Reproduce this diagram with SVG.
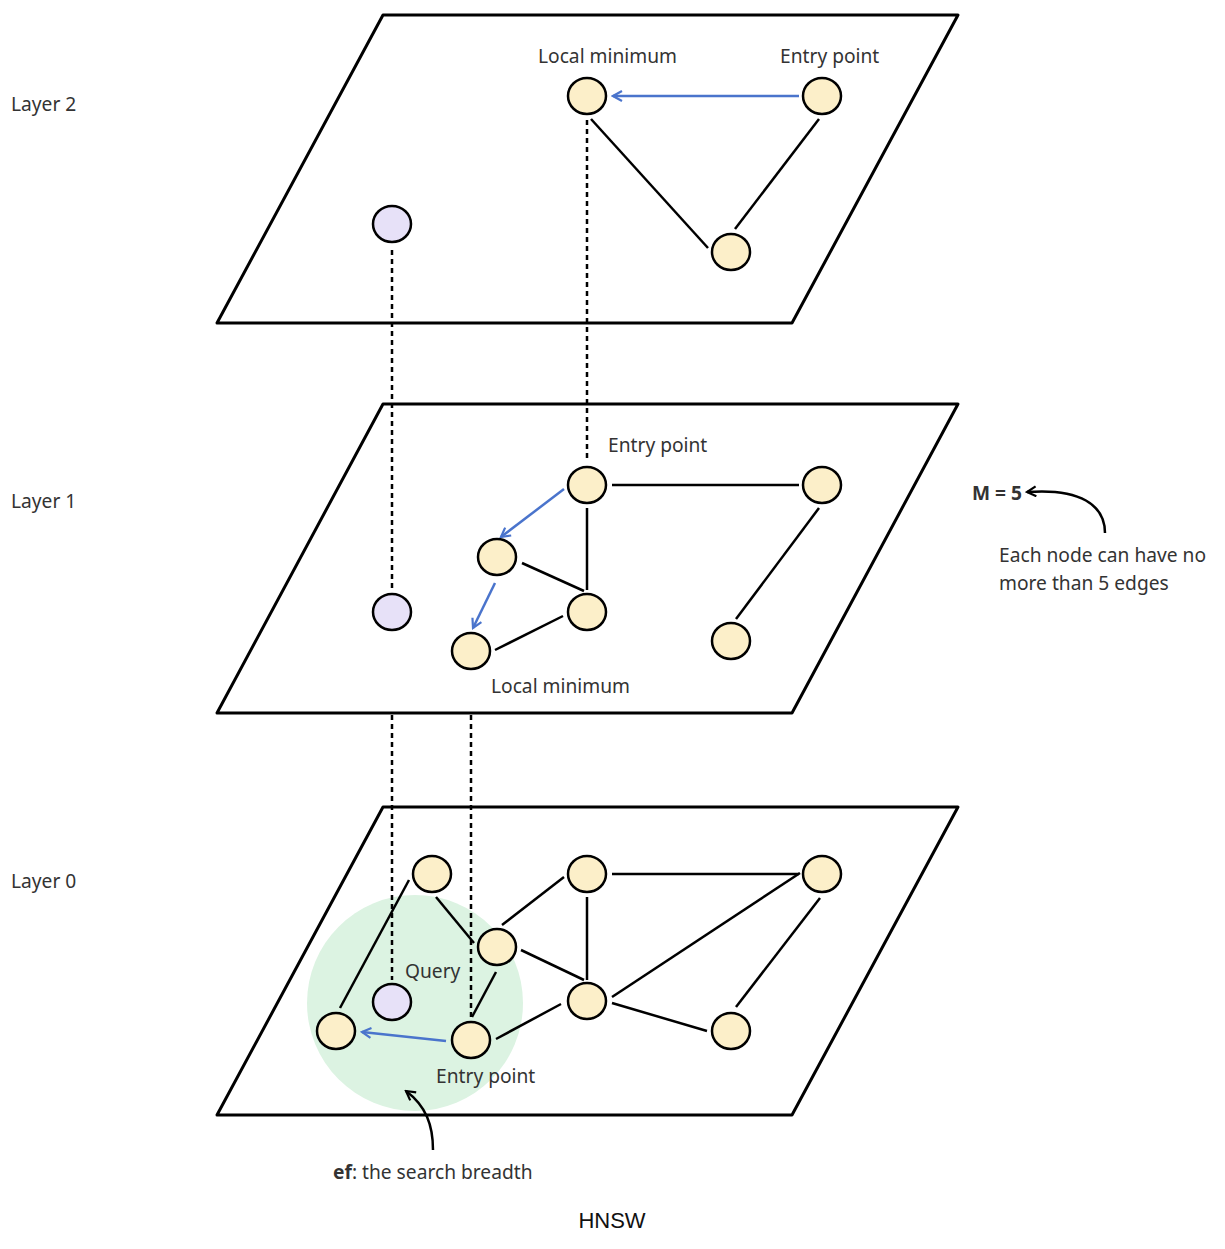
<svg xmlns="http://www.w3.org/2000/svg" width="1225" height="1249" viewBox="0 0 1225 1249">
<style>
.plane{fill:#fff;stroke:#000;stroke-width:3;stroke-linejoin:round}
.n{fill:#fcefc9;stroke:#000;stroke-width:2.5}
.q{fill:#e7e1f8;stroke:#000;stroke-width:2.5}
.e{stroke:#000;stroke-width:2.5;fill:none}
.d{stroke:#000;stroke-width:2.5;stroke-dasharray:5 4;fill:none}
.b{stroke:#4a74cc;stroke-width:2.5;fill:none}
.t{font-family:"Noto Sans","Open Sans",sans-serif;font-size:19.2px;fill:#333}
</style>
<defs>
<marker id="ab" viewBox="0 0 12 12" refX="10" refY="6" markerWidth="12" markerHeight="12" markerUnits="userSpaceOnUse" orient="auto">
<path d="M1 1 L10 6 L1 11" fill="none" stroke="#4a74cc" stroke-width="2.2"/>
</marker>
<marker id="ak" viewBox="0 0 12 12" refX="10" refY="6" markerWidth="12" markerHeight="12" markerUnits="userSpaceOnUse" orient="auto">
<path d="M1 1 L10 6 L1 11" fill="none" stroke="#000" stroke-width="2.2"/>
</marker>
</defs>
<rect width="1225" height="1249" fill="#fff"/>
<g id="planes">
<polygon class="plane" points="383,15 958,15 792,323 217,323"/>
<polygon class="plane" points="383,404 958,404 792,713 217,713"/>
<polygon class="plane" points="383,807 958,807 792,1115 217,1115"/>
</g>
<circle id="ef-area" cx="415" cy="1003" r="108" fill="#dcf3e2"/>
<g id="connectors">
<line class="d" x1="587" y1="120" x2="587" y2="462"/>
<line class="d" x1="392" y1="250" x2="392" y2="590"/>
<line class="d" x1="392" y1="715" x2="392" y2="980"/>
<line class="d" x1="471" y1="715" x2="471" y2="1018"/>
<line class="e" x1="591" y1="119" x2="708" y2="248"/>
<line class="e" x1="819" y1="119" x2="735" y2="229"/>
<line class="b" x1="799" y1="96" x2="613" y2="96" marker-end="url(#ab)"/>
<line class="e" x1="612" y1="485" x2="799" y2="485"/>
<line class="e" x1="587" y1="508" x2="587" y2="590"/>
<line class="e" x1="522" y1="563" x2="584" y2="591"/>
<line class="e" x1="495" y1="650" x2="563" y2="616"/>
<line class="e" x1="819" y1="508" x2="736" y2="619"/>
<line class="b" x1="564" y1="489" x2="501" y2="537" marker-end="url(#ab)"/>
<line class="b" x1="495" y1="583" x2="473" y2="628" marker-end="url(#ab)"/>
<line class="e" x1="409" y1="880" x2="340" y2="1008"/>
<line class="e" x1="436" y1="897" x2="474" y2="943"/>
<line class="e" x1="502" y1="925" x2="564" y2="877"/>
<line class="e" x1="612" y1="874" x2="799" y2="874"/>
<line class="e" x1="587" y1="897" x2="587" y2="980"/>
<line class="e" x1="521" y1="950" x2="584" y2="980"/>
<line class="e" x1="496" y1="972" x2="472" y2="1017"/>
<line class="e" x1="496" y1="1039" x2="561" y2="1004"/>
<line class="e" x1="612" y1="997" x2="800" y2="873"/>
<line class="e" x1="612" y1="1003" x2="707" y2="1031"/>
<line class="e" x1="820" y1="898" x2="736" y2="1007"/>
<line class="b" x1="446" y1="1041" x2="362" y2="1032" marker-end="url(#ab)"/>
<path class="e" d="M433 1150 C433 1125 426 1106 406 1091" marker-end="url(#ak)"/>
<path class="e" d="M1105 533 C1105 505 1080 488 1027 492" marker-end="url(#ak)"/>
</g>
<g id="layer2-nodes">
<ellipse id="l2-localmin" class="n" cx="587" cy="96" rx="19" ry="18"/>
<ellipse id="l2-entry" class="n" cx="822" cy="96" rx="19" ry="18"/>
<ellipse id="l2-c" class="n" cx="731" cy="252" rx="19" ry="18"/>
<ellipse id="l2-q" class="q" cx="392" cy="224" rx="19" ry="18"/>
</g>
<g id="layer1-nodes">
<ellipse id="l1-entry" class="n" cx="587" cy="485" rx="19" ry="18"/>
<ellipse id="l1-b" class="n" cx="822" cy="485" rx="19" ry="18"/>
<ellipse id="l1-c" class="n" cx="497" cy="557" rx="19" ry="18"/>
<ellipse id="l1-d" class="n" cx="587" cy="612" rx="19" ry="18"/>
<ellipse id="l1-localmin" class="n" cx="471" cy="651" rx="19" ry="18"/>
<ellipse id="l1-f" class="n" cx="731" cy="641" rx="19" ry="18"/>
<ellipse id="l1-q" class="q" cx="392" cy="612" rx="19" ry="18"/>
</g>
<g id="layer0-nodes">
<ellipse id="l0-a" class="n" cx="432" cy="874" rx="19" ry="18"/>
<ellipse id="l0-b" class="n" cx="587" cy="874" rx="19" ry="18"/>
<ellipse id="l0-c" class="n" cx="822" cy="874" rx="19" ry="18"/>
<ellipse id="l0-d" class="n" cx="497" cy="947" rx="19" ry="18"/>
<ellipse id="l0-e" class="n" cx="587" cy="1001" rx="19" ry="18"/>
<ellipse id="l0-f" class="n" cx="731" cy="1031" rx="19" ry="18"/>
<ellipse id="l0-g" class="n" cx="336" cy="1031" rx="19" ry="18"/>
<ellipse id="l0-entry" class="n" cx="471" cy="1040" rx="19" ry="18"/>
<ellipse id="l0-query" class="q" cx="392" cy="1002" rx="19" ry="18"/>
</g>
<g id="labels">
<text class="t" x="11" y="111">Layer 2</text>
<text class="t" x="11" y="508">Layer 1</text>
<text class="t" x="11" y="888">Layer 0</text>
<text class="t" x="538" y="63">Local minimum</text>
<text class="t" x="780" y="63">Entry point</text>
<text class="t" x="608" y="452">Entry point</text>
<text class="t" x="491" y="693">Local minimum</text>
<text class="t" x="405" y="978">Query</text>
<text class="t" x="436" y="1083">Entry point</text>
<text class="t" x="333" y="1179"><tspan font-weight="bold">ef</tspan>: the search breadth</text>
<text class="t" x="972" y="500" font-weight="bold">M = 5</text>
<text class="t" x="999" y="562">Each node can have no</text>
<text class="t" x="999" y="590">more than 5 edges</text>
<text x="612" y="1228" text-anchor="middle" font-family="Liberation Sans, Arial, sans-serif" font-size="22" fill="#111">HNSW</text>
</g>
</svg>
